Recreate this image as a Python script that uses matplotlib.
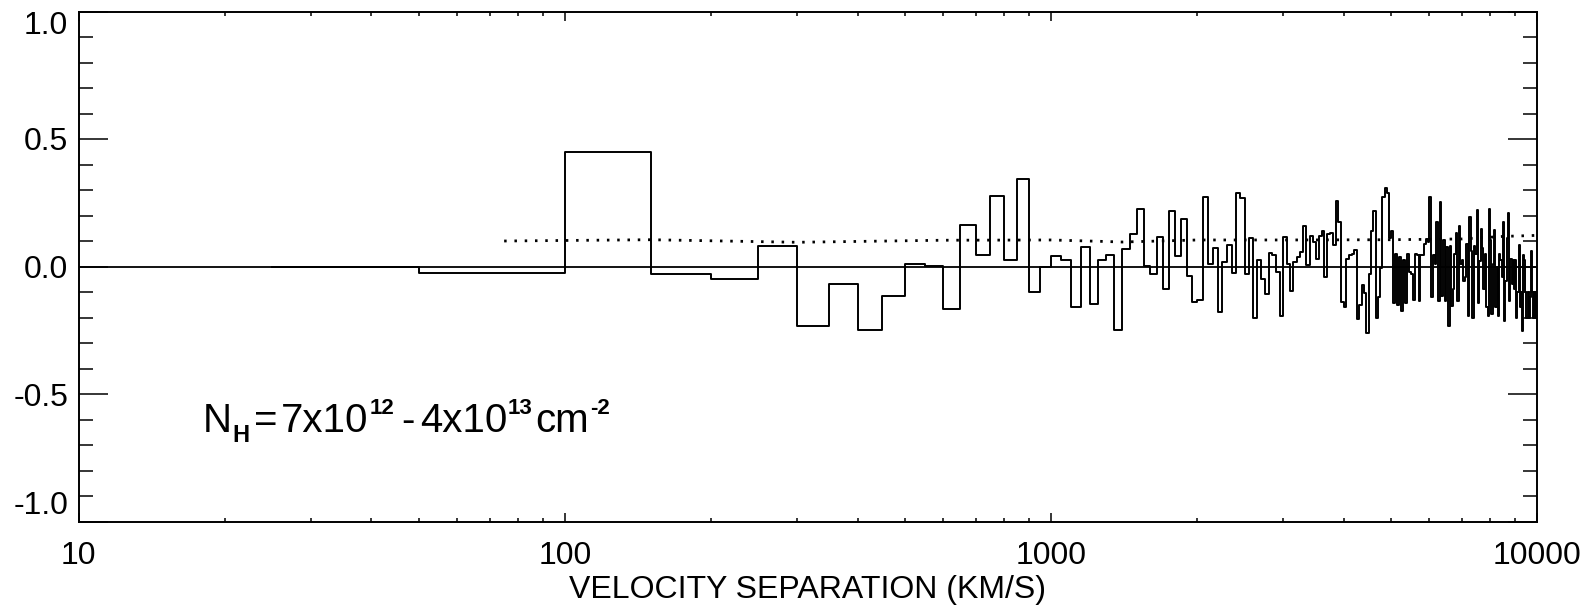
import matplotlib
matplotlib.use("Agg")
import matplotlib.pyplot as plt
import numpy as np
from matplotlib.ticker import FixedLocator, LogLocator, NullFormatter, FuncFormatter

plt.rcParams['font.family'] = 'Liberation Sans'
plt.rcParams['axes.unicode_minus'] = False

# 50 km/s bins, drawn IDL-style (steps centred on bin centres)
bin_width = 50

# 0 - 2000 km/s
corr_0_2000 = [0.000, -0.026, 0.448, -0.029, -0.050, 0.079, -0.232, -0.067, -0.249, -0.115,
               0.009, 0.001, -0.165, 0.162, 0.045, 0.275, 0.024, 0.345, -0.099, 0.000,
               0.042, 0.024, -0.158, 0.075, -0.149, 0.024, 0.047, -0.250, 0.069, 0.129,
               0.224, 0.003, -0.029, 0.116, -0.088, 0.219, 0.042, 0.188, -0.037, -0.141]
# 2000 - 4000 km/s
corr_2000_4000 = [-0.132, 0.274, 0.009, 0.074, -0.178, 0.017, 0.083, -0.026, 0.287, 0.267,
                  -0.029, 0.112, -0.200, 0.024, -0.049, -0.108, 0.054, 0.046, -0.022, -0.196,
                  0.116, 0.010, -0.098, 0.017, 0.037, 0.057, 0.159, 0.004, 0.119, 0.096,
                  0.030, 0.119, 0.140, -0.042, 0.129, 0.132, 0.083, 0.258, 0.175, -0.141]
# 4000 - 6000 km/s
corr_4000_6000 = [-0.160, 0.030, 0.044, 0.050, 0.066, -0.204, -0.150, -0.071, -0.105, -0.259,
                  -0.029, 0.140, 0.219, -0.203, -0.121, -0.005, 0.274, 0.307, 0.290, 0.110,
                  0.140, -0.145, 0.048, -0.150, 0.037, -0.176, 0.026, -0.145, 0.048, -0.020,
                  -0.029, -0.132, 0.048, 0.044, -0.134, 0.046, 0.044, 0.090, 0.109, 0.096]
# 6000 - 8000 km/s
corr_6000_8000 = [0.274, -0.121, 0.044, 0.011, 0.175, -0.134, 0.254, -0.115, 0.103, -0.134,
                  0.076, -0.233, 0.079, -0.154, -0.088, 0.050, 0.132, -0.134, 0.158, 0.011,
                  0.026, -0.058, -0.040, 0.090, -0.194, 0.195, 0.060, -0.200, 0.079, 0.050,
                  0.221, -0.145, 0.020, 0.149, 0.074, -0.088, 0.050, -0.160, -0.194, 0.224]
# 8000 - 10000 km/s
corr_8000_10000 = [0.103, -0.187, 0.011, 0.142, -0.160, -0.003, -0.194, 0.050, 0.024, -0.042,
                   0.175, -0.213, -0.055, 0.113, 0.208, -0.134, 0.030, -0.068, 0.024, -0.088,
                   0.024, -0.200, -0.100, 0.083, -0.160, -0.100, -0.253, 0.044, 0.024, -0.100,
                   -0.200, -0.100, -0.200, -0.120, 0.060, -0.100, -0.200, -0.100, -0.200, -0.100]

corr = corr_0_2000 + corr_2000_4000 + corr_4000_6000 + corr_6000_8000 + corr_8000_10000
centers = np.arange(len(corr)) * bin_width + bin_width / 2

# dotted reference level
level_x = [75, 150, 300, 600, 1000, 1300, 1400, 2000, 3000, 5000, 7000, 8500, 9975]
level_y = [0.100, 0.105, 0.095, 0.103, 0.104, 0.098, 0.096, 0.104, 0.104, 0.105, 0.108, 0.118, 0.122]

# column density label: (text, size, bold, dx pt, dy pt)
label_parts = [("H", 17, True, 0.3, -7),
               ("=", 29, False, 3.5, 0),
               ("7x10", 29, False, 2.5, 0),
               ("12", 16, True, 0.5, 13),
               ("-", 29, False, 5.4, 0),
               ("4x10", 29, False, 3.6, 0),
               ("13", 16, True, 0.5, 13),
               ("cm", 29, False, 2.0, 0),
               ("-2", 16, True, 0.5, 13)]

W, H = 1594, 605
fig = plt.figure(figsize=(W / 100, H / 100), dpi=100)
ax = fig.add_axes([78.7 / W, (H - 521.5) / H, (1537.3 - 78.7) / W, 510 / H])

ax.axhline(0, color='k', lw=1.3)
ax.step(centers, corr, where='mid', color='k', lw=1.4)
ax.plot(level_x, level_y, color='k', lw=2.0, linestyle=(0, (0.9, 2.8)))

ax.set_xscale('log')
ax.set_xlim(10, 10000)
ax.set_ylim(-1, 1)

ax.xaxis.set_major_locator(FixedLocator([10, 100, 1000, 10000]))
ax.xaxis.set_major_formatter(FuncFormatter(lambda v, p: '%d' % v))
ax.xaxis.set_minor_locator(LogLocator(base=10, subs=np.arange(2, 10)))
ax.xaxis.set_minor_formatter(NullFormatter())
ax.yaxis.set_major_locator(FixedLocator([-1, -0.5, 0, 0.5, 1]))
ax.yaxis.set_major_formatter(FuncFormatter(lambda v, p: '%.1f' % v))
ax.yaxis.set_minor_locator(FixedLocator(np.arange(-0.9, 0.95, 0.1)))

for s in ax.spines.values():
    s.set_linewidth(1.4)
ax.tick_params(which='both', direction='in', top=True, right=True, width=1.1,
               labelsize=23, colors='k')
ax.tick_params(axis='x', which='major', length=6.7, pad=14)
ax.tick_params(axis='x', which='minor', length=3.2)
ax.tick_params(axis='y', which='major', length=20.7, pad=7.5)
ax.tick_params(axis='y', which='minor', length=10)

ax.set_xlabel('VELOCITY SEPARATION (KM/S)', fontsize=23)
ax.xaxis.set_label_coords(0.5, -0.105)

# N_H label built piece by piece along a common baseline
base_y = 0.175
t = ax.text(0.085, base_y, "N", transform=ax.transAxes, fontsize=29,
            ha='left', va='baseline')
for s, size, bold, dx, dy in label_parts:
    t = ax.annotate(s, xy=(1, base_y), xycoords=(t, ax.transAxes),
                    xytext=(dx, dy), textcoords='offset points',
                    fontsize=size, fontweight='bold' if bold else 'normal',
                    ha='left', va='baseline')

fig.canvas.draw()
yt = ax.yaxis.get_major_ticks()
yt[0].label1.set_va('bottom')
yt[-1].label1.set_va('top')

fig.savefig('out.png', dpi=100)
